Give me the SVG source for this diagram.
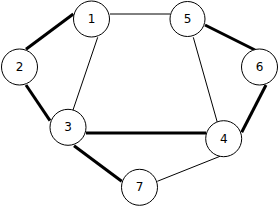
<svg xmlns="http://www.w3.org/2000/svg" width="280" height="208" viewBox="0 0 280 208">
<style>
.thin{stroke:#000;stroke-width:1;fill:none}
.thick{stroke:#000;stroke-width:3;fill:none}
.node circle{fill:#fff;stroke:#000;stroke-width:1}
.node text{font-family:"DejaVu Sans",sans-serif;font-size:12px;text-anchor:middle;dominant-baseline:central;fill:#000}
</style>
<rect width="280" height="208" fill="#fff"/>
<g id="connectors">
<line class="thin" x1="110" y1="14" x2="170" y2="14"/>
<line class="thick" x1="73.3" y1="14" x2="26" y2="49.3"/>
<line class="thick" x1="26" y1="85" x2="50" y2="120.7"/>
<line class="thin" x1="97.7" y1="37.3" x2="73" y2="110"/>
<line class="thick" x1="205" y1="25" x2="255" y2="50"/>
<line class="thin" x1="193.3" y1="37.3" x2="217.3" y2="122.3"/>
<line class="thick" x1="266" y1="85" x2="241.7" y2="132.3"/>
<line class="thick" x1="86" y1="133" x2="206" y2="133"/>
<line class="thick" x1="74" y1="145.7" x2="121.7" y2="181.3"/>
<line class="thin" x1="157.3" y1="181.3" x2="220" y2="156.3"/>
</g>
<g id="n1" class="node"><circle cx="91.5" cy="19" r="18"/><text x="91.5" y="19">1</text></g>
<g id="n2" class="node"><circle cx="19.5" cy="67" r="18"/><text x="19.5" y="67">2</text></g>
<g id="n3" class="node"><circle cx="68" cy="127.3" r="18"/><text x="68" y="127.3">3</text></g>
<g id="n4" class="node"><circle cx="223.7" cy="138.7" r="18"/><text x="223.7" y="138.7">4</text></g>
<g id="n5" class="node"><circle cx="187.5" cy="19" r="17.5"/><text x="187.5" y="19">5</text></g>
<g id="n6" class="node"><circle cx="259.5" cy="67" r="18"/><text x="259.5" y="67">6</text></g>
<g id="n7" class="node"><circle cx="139.5" cy="187.3" r="18"/><text x="139.5" y="187.3">7</text></g>
</svg>
